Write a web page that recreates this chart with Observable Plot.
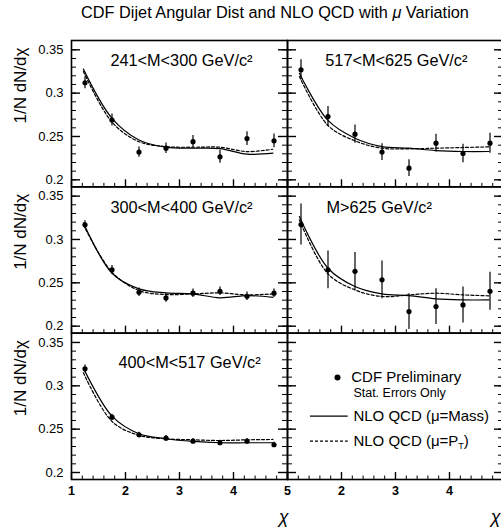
<!DOCTYPE html>
<html><head><meta charset="utf-8">
<script src="https://cdn.jsdelivr.net/npm/d3@7"></script>
<script src="https://cdn.jsdelivr.net/npm/@observablehq/plot@0.6"></script>
<style>
html,body{margin:0;padding:0;background:#fff;overflow:hidden;width:501px;height:529px;}
#title{position:absolute;left:0;top:0;width:550px;text-align:center;font:16.3px "Liberation Sans",Arial,sans-serif;line-height:24px;color:#000;}
#chart{position:absolute;left:0;top:30px;}
#chart svg{max-width:none;overflow:visible;}
</style></head><body>
<div id="title">CDF Dijet Angular Dist and NLO QCD with <i>μ</i> Variation</div>
<div id="chart"></div>
<script>
// bin centres of chi for the data, and the chi values the NLO curves are read at
const chi = [1.25, 1.75, 2.25, 2.75, 3.25, 3.75, 4.25, 4.75];
const nloChi = [1.22, 1.75, 2.25, 2.75, 3.25, 3.75, 4.25, 4.73];

const panelLabels = ["241<M<300 GeV/c²", "517<M<625 GeV/c²", "300<M<400 GeV/c²", "M>625 GeV/c²", "400<M<517 GeV/c²"];
const panelCol = [0, 1, 0, 1, 0];
const panelRow = [0, 0, 1, 1, 2];

// CDF preliminary 1/N dN/dchi and statistical errors
const cdf241 = [0.312, 0.269, 0.232, 0.2365, 0.244, 0.2265, 0.2476, 0.245];
const err241 = [0.0068, 0.007, 0.006, 0.006, 0.007, 0.0075, 0.008, 0.008];
const cdf517 = [0.3269, 0.273, 0.2527, 0.232, 0.2135, 0.2423, 0.2304, 0.2423];
const err517 = [0.0115, 0.0115, 0.0106, 0.0096, 0.0096, 0.0102, 0.0106, 0.0115];
const cdf300 = [0.3169, 0.265, 0.2391, 0.2326, 0.238, 0.2403, 0.2345, 0.238];
const err300 = [0.0048, 0.005, 0.005, 0.005, 0.005, 0.005, 0.005, 0.005];
const cdf625 = [0.3172, 0.265, 0.2633, 0.2534, 0.2168, 0.2226, 0.2245, 0.2403];
const err625 = [0.0237, 0.0217, 0.0217, 0.0217, 0.0206, 0.0206, 0.0208, 0.022];
const cdf400 = [0.3196, 0.2638, 0.2435, 0.2396, 0.2361, 0.2343, 0.2361, 0.232];
const err400 = [0.0045, 0.0035, 0.003, 0.003, 0.003, 0.003, 0.003, 0.003];

// NLO QCD, mu = Mass (solid) and mu = PT (dashed)
const mass241 = [0.3277, 0.271, 0.246, 0.2377, 0.2365, 0.236, 0.2296, 0.2307];
const pt241   = [0.325, 0.2665, 0.244, 0.2383, 0.2376, 0.2376, 0.2326, 0.2353];
const mass517 = [0.323, 0.2685, 0.248, 0.2384, 0.2365, 0.2338, 0.2327, 0.2327];
const pt517   = [0.3192, 0.2627, 0.245, 0.2365, 0.2358, 0.2365, 0.2373, 0.238];
const mass300 = [0.3192, 0.261, 0.243, 0.2384, 0.2372, 0.2327, 0.2353, 0.2333];
const pt300   = [0.3169, 0.2622, 0.2411, 0.2365, 0.2372, 0.2384, 0.2361, 0.2372];
const mass625 = [0.3265, 0.2668, 0.2457, 0.2372, 0.2353, 0.2315, 0.2303, 0.2303];
const pt625   = [0.3227, 0.2603, 0.2418, 0.2342, 0.2361, 0.238, 0.2361, 0.235];
const mass400 = [0.3204, 0.265, 0.2447, 0.2389, 0.2358, 0.2343, 0.2343, 0.2343];
const pt400   = [0.315, 0.2589, 0.2429, 0.2389, 0.2377, 0.2369, 0.2377, 0.2381];

// tick values
const yTickLabels = [0.2, 0.25, 0.3, 0.35];
const yMinorTicks = d3.range(20, 36).map(d => d / 100);
const xTickLabelsLeft = [1, 2, 3, 4, 5];
const xTickLabelsRight = [2, 3, 4];
const xMinorTicks = d3.range(5, 26).map(d => d / 5);
const xMajorTicks = [1, 2, 3, 4, 5];

const yTitle = "1/N dN/dχ";
const xTitle = "χ";
const legendTexts = ["CDF Preliminary", "Stat. Errors Only", "NLO QCD (μ=Mass)", "NLO QCD (μ=P_T)"];

// panel label anchors (chi, value)
const labelChi = [1.72, 1.70, 1.72, 1.72, 1.87];
const labelVal = [0.3377, 0.3377, 0.3365, 0.3365, 0.3261];

const cdf = [cdf241, cdf517, cdf300, cdf625, cdf400];
const err = [err241, err517, err300, err625, err400];
const mass = [mass241, mass517, mass300, mass625, mass400];
const pt = [pt241, pt517, pt300, pt625, pt400];

const points = [], curves = [];
panelLabels.forEach((lab, p) => {
  chi.forEach((c, i) => points.push({p, col: panelCol[p], row: panelRow[p], chi: c, v: cdf[p][i], e: err[p][i]}));
  nloChi.forEach((c, i) => curves.push({p, col: panelCol[p], row: panelRow[p], chi: c, mass: mass[p][i], pt: pt[p][i]}));
});
const labels = panelLabels.map((t, p) => ({t, col: panelCol[p], row: panelRow[p], x: labelChi[p], y: labelVal[p]}));
const xLabs = [...xTickLabelsLeft.map(v => ({v, col: 0})), ...xTickLabelsRight.map(v => ({v, col: 1}))];

const H = 439 / 3, W = 216;
const font = "'Liberation Sans', Arial, Helvetica, sans-serif";

const chart = Plot.plot({
  width: 503, height: 499,
  marginTop: 10, marginBottom: 50, marginLeft: 71, marginRight: 0,
  style: {fontFamily: font, background: "white", color: "black", maxWidth: "none", overflow: "visible"},
  x: {domain: [1, 5], axis: null},
  y: {domain: [0.2 - 7 / 866.7, 0.35 + 9.3 / 866.7], axis: null},
  fx: {domain: [0, 1], padding: 0, axis: null, round: false},
  fy: {domain: [0, 1, 2], padding: 0, axis: null, round: false},
  marks: [
    // inward ticks on left, right and bottom edges of every panel
    Plot.tickY(yMinorTicks, {y: d => d, insetRight: W - 5, strokeWidth: 1}),
    Plot.tickY(yTickLabels, {y: d => d, insetRight: W - 9, strokeWidth: 1.4}),
    Plot.tickY(yMinorTicks, {y: d => d, insetLeft: W - 5, strokeWidth: 1}),
    Plot.tickY(yTickLabels, {y: d => d, insetLeft: W - 9, strokeWidth: 1.4}),
    Plot.tickX(xMinorTicks, {x: d => d, insetTop: H - 3.5, strokeWidth: 1}),
    Plot.tickX(xMajorTicks, {x: d => d, insetTop: H - 7, strokeWidth: 1.4}),
    Plot.frame({stroke: "black", strokeWidth: 1.6}),
    // y tick labels on the left column
    Plot.axisY({ticks: yTickLabels, tickSize: 0, tickPadding: 8, anchor: "left", fontSize: 13, tickFormat: d => String(d), label: null}),
    // x tick labels on the bottom row
    Plot.text(xLabs, {x: "v", fx: "col", fy: () => 2, text: d => String(d.v), frameAnchor: "bottom", dy: 7, lineAnchor: "top", fontSize: 12.5, fontWeight: "bold"}),
    // axis titles
    Plot.text([0, 1, 2], {fx: () => 0, fy: d => d, text: () => yTitle, frameAnchor: "top-left", rotate: -90, textAnchor: "end", lineAnchor: "middle", dx: -51, dy: 7, fontSize: 17}),
    Plot.text([0], {fx: () => 0, fy: () => 2, text: () => xTitle, frameAnchor: "bottom-right", textAnchor: "end", lineAnchor: "middle", dx: 1, dy: 38, fontSize: 18, fontStyle: "italic"}),
    Plot.text([1], {fx: () => 1, fy: () => 2, text: () => xTitle, frameAnchor: "bottom-right", textAnchor: "end", lineAnchor: "middle", dx: -3, dy: 38, fontSize: 18, fontStyle: "italic"}),
    // panel labels
    Plot.text(labels, {x: "x", y: "y", fx: "col", fy: "row", text: "t", textAnchor: "start", fontSize: 16.3}),
    // NLO curves
    Plot.line(curves, {x: "chi", y: "mass", z: "p", fx: "col", fy: "row", curve: "catmull-rom", stroke: "black", strokeWidth: 1.2}),
    Plot.line(curves, {x: "chi", y: "pt", z: "p", fx: "col", fy: "row", curve: "catmull-rom", stroke: "black", strokeWidth: 1.2, strokeDasharray: "3,2"}),
    // data
    Plot.ruleX(points, {x: "chi", y1: d => d.v - d.e, y2: d => d.v + d.e, fx: "col", fy: "row", stroke: "black", strokeWidth: 1.2}),
    Plot.dot(points, {x: "chi", y: "v", fx: "col", fy: "row", r: 2.6, fill: "black", stroke: "none"}),
    // legend in the empty bottom-right panel
    Plot.dot([{chi: 1.926, v: 0.3096}], {x: "chi", y: "v", fx: () => 1, fy: () => 2, r: 3, fill: "black", stroke: "none"}),
    Plot.text([{t: legendTexts[0], chi: 2.18, v: 0.3096, s: 15}, {t: legendTexts[1], chi: 2.22, v: 0.2915, s: 12.5}, {t: legendTexts[2], chi: 2.22, v: 0.265, s: 15}, {t: legendTexts[3], chi: 2.22, v: 0.2361, s: 15}],
      {x: "chi", y: "v", fx: () => 1, fy: () => 2, text: "t", fontSize: "s", textAnchor: "start"}),
    Plot.ruleY([0.265], {y: d => d, x1: 1.426, x2: 2.124, fx: () => 1, fy: () => 2, stroke: "black", strokeWidth: 1.2}),
    Plot.ruleY([0.2361], {y: d => d, x1: 1.426, x2: 2.124, fx: () => 1, fy: () => 2, stroke: "black", strokeWidth: 1.2, strokeDasharray: "3,2"})
  ]
});
document.getElementById("chart").appendChild(chart);

// subscript T in the PT legend entry
chart.querySelectorAll("text").forEach(el => {
  if (el.textContent.includes("P_T")) {
    const [a, b] = el.textContent.split("P_T");
    el.textContent = "";
    const ns = "http://www.w3.org/2000/svg";
    const t1 = document.createElementNS(ns, "tspan"); t1.textContent = a + "P";
    const t2 = document.createElementNS(ns, "tspan"); t2.textContent = "T"; t2.setAttribute("dy", "3"); t2.setAttribute("font-size", "9");
    const t3 = document.createElementNS(ns, "tspan"); t3.textContent = b; t3.setAttribute("dy", "-3");
    el.append(t1, t2, t3);
  }
});
</script>
</body></html>
